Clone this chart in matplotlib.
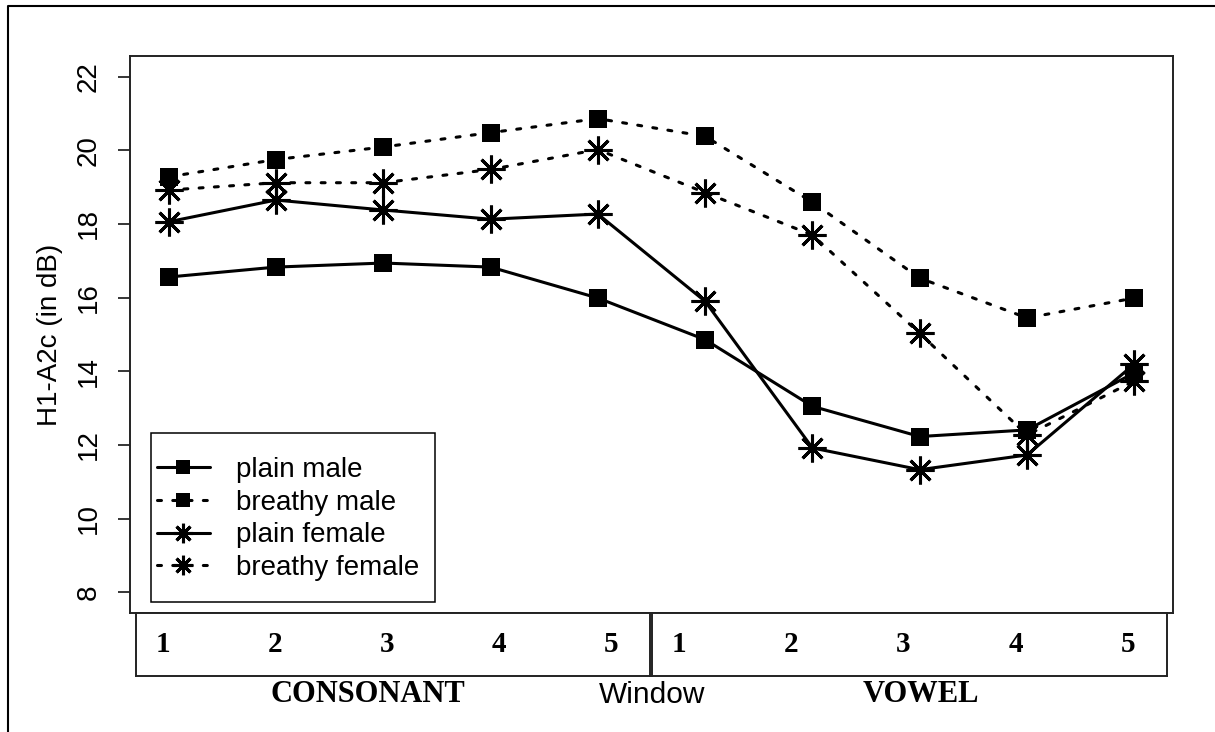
import matplotlib.pyplot as plt
from matplotlib.lines import Line2D
from matplotlib.patches import Rectangle

# H1-A2c over ten analysis windows (5 in the consonant, 5 in the vowel)
windows = [1, 2, 3, 4, 5, 6, 7, 8, 9, 10]
strip_ticks = [1, 2, 3, 4, 5]
yticks = [8, 10, 12, 14, 16, 18, 20, 22]

plain_male = [16.56, 16.83, 16.94, 16.83, 15.99, 14.86, 13.05, 12.23, 12.41, 13.96]
breathy_male = [19.28, 19.75, 20.09, 20.48, 20.86, 20.38, 18.59, 16.53, 15.45, 15.99]
plain_female = [18.06, 18.65, 18.38, 18.13, 18.27, 15.90, 11.92, 11.33, 11.73, 14.20]
breathy_female = [18.92, 19.12, 19.12, 19.48, 20.02, 18.85, 17.70, 15.03, 12.27, 13.74]

SANS = 'Liberation Sans'
SERIF = 'Liberation Serif'
W, H = 1215, 732


def box(l, t, r, b):
    # pixel box -> figure fraction [left, bottom, width, height]
    return [l / W, 1 - b / H, (r - l) / W, (b - t) / H]


fig = plt.figure(figsize=(W / 100, H / 100), dpi=100)
ax = fig.add_axes(box(130, 56, 1173, 613))

dotted = (0, (1.3, 3.7))
square = dict(marker='s', markersize=13.5, markeredgewidth=0)
star = dict(marker=(8, 2, 0), markersize=20, markeredgewidth=2.2)

series = [
    (plain_male, '-', square, 'plain male'),
    (breathy_male, dotted, square, 'breathy male'),
    (plain_female, '-', star, 'plain female'),
    (breathy_female, dotted, star, 'breathy female'),
]
handles = []
for vals, ls, mk, lab in series:
    ln, = ax.plot(windows, vals, color='black', linestyle=ls, linewidth=2.2,
                  dash_capstyle='round', solid_capstyle='round',
                  markerfacecolor='black', markeredgecolor='black',
                  label=lab, **mk)
    handles.append(ln)

ax.set_xlim(0.64, 10.36)
ax.set_ylim(7.44, 22.56)
ax.set_xticks([])
ax.set_yticks(yticks)
ax.tick_params(axis='y', length=8.6, width=1.1, pad=12, labelsize=20,
               labelrotation=90)
for t in ax.get_yticklabels():
    t.set_fontfamily(SANS)
    t.set_va('center')
for sp in ax.spines.values():
    sp.set_linewidth(1.4)
    sp.set_color('#222222')
ax.set_ylabel('H1-A2c (in dB)', fontsize=20, fontfamily=SANS, labelpad=9)

# legend, with its frame drawn separately
ax.legend(handles=handles, frameon=False, loc='upper left',
          bbox_to_anchor=(0.0259, 0.2806), borderpad=0, borderaxespad=0,
          handlelength=1.9, handletextpad=0.93, labelspacing=0.245,
          markerscale=0.7, prop={'family': SANS, 'size': 20})
ax.add_patch(Rectangle((21 / 1043, 11 / 557), 284 / 1043, 169 / 557,
                       transform=ax.transAxes, fill=False, linewidth=1.1,
                       edgecolor='black'))

# window number strips under the plot
for l, r in [(136, 650), (652, 1167)]:
    sax = fig.add_axes(box(l, 613, r, 676))
    sax.set_xlim(0.759, 5.35)
    sax.set_ylim(0, 1)
    sax.set_xticks([])
    sax.set_yticks([])
    for sp in sax.spines.values():
        sp.set_linewidth(1.4)
        sp.set_color('#222222')
    for i in strip_ticks:
        sax.text(i, 0.5, str(i), ha='center', va='center', fontsize=21,
                 fontfamily=SERIF, fontweight='bold')

fig.text(368 / W, 1 - 695 / H, 'CONSONANT', ha='center', va='center',
         fontsize=22, fontfamily=SERIF, fontweight='bold')
fig.text(921 / W, 1 - 695 / H, 'VOWEL', ha='center', va='center',
         fontsize=22, fontfamily=SERIF, fontweight='bold')
fig.text(652 / W, 1 - 695 / H, 'Window', ha='center', va='center',
         fontsize=21.5, fontfamily=SANS)

# outer frame (open on the right and bottom)
fig.add_artist(Line2D([8 / W, 8 / W, 1.0], [0, 1 - 6 / H, 1 - 6 / H],
                      transform=fig.transFigure, color='black', linewidth=1.5))

fig.savefig('out.png', dpi=100)
